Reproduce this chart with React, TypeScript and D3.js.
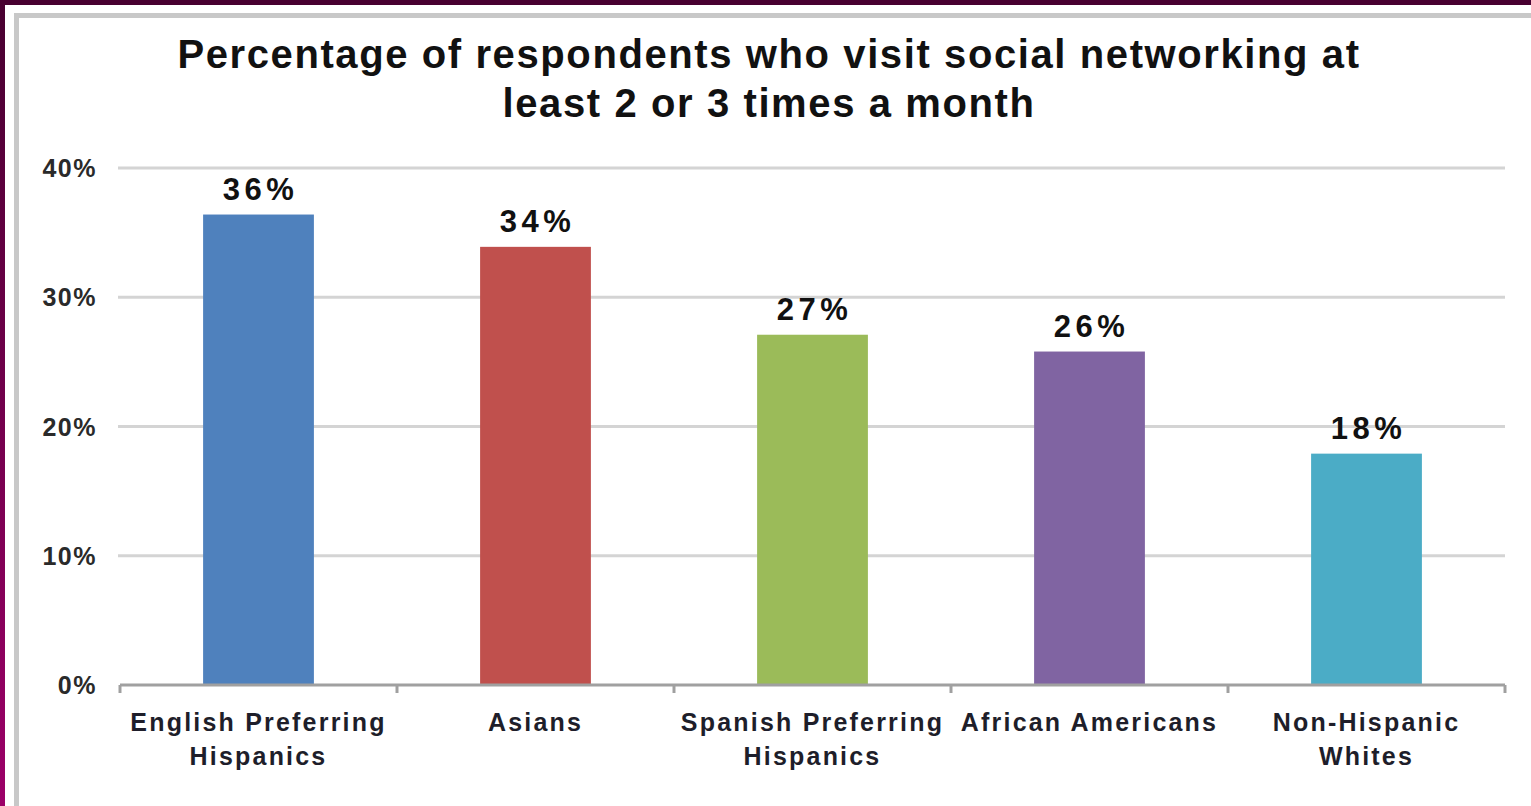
// @ts-nocheck
import React from 'react'
import * as d3 from 'd3'

const categories = [
  'English Preferring Hispanics',
  'Asians',
  'Spanish Preferring Hispanics',
  'African Americans',
  'Non-Hispanic Whites',
]
const categoryLines = [
  ['English Preferring', 'Hispanics'],
  ['Asians'],
  ['Spanish Preferring', 'Hispanics'],
  ['African Americans'],
  ['Non-Hispanic', 'Whites'],
]
const values = [36.4, 33.9, 27.1, 25.8, 17.9]
const valueLabels = ['36%', '34%', '27%', '26%', '18%']
const yTicks = [0, 10, 20, 30, 40]
const titleLines = ['Percentage of respondents who visit social networking at', 'least 2 or 3 times a month']

const barColors = ['#4f81bd', '#c0504d', '#9bbb59', '#8064a2', '#4bacc6']

const W = 1531
const H = 806
const left = 120
const right = 1505
const top = 168
const bottom = 685
const font = 'Liberation Sans, Arial, sans-serif'

const App = () => {
  const x = d3.scaleBand().domain(categories).range([left, right]).paddingInner(0.6).paddingOuter(0.3)
  const y = d3.scaleLinear().domain([0, 40]).range([bottom, top])
  const step = x.step()
  const bounds = d3.range(categories.length + 1).map((i) => left + i * step)

  return (
    <svg width={W} height={H} style={{ position: 'absolute', left: 0, top: 0, background: '#fff' }}>
      <defs>
        <linearGradient id="side" x1="0" y1="0" x2="0" y2="1">
          <stop offset="0" stopColor="#480030" />
          <stop offset="1" stopColor="#9c0068" />
        </linearGradient>
      </defs>
      <rect x={0} y={0} width={W} height={5} fill="#480030" />
      <rect x={0} y={0} width={5} height={H} fill="url(#side)" />
      <rect x={16.5} y={15.5} width={W - 14} height={H - 13} fill="#fff" stroke="#c8c8c8" strokeWidth={5} />

      {titleLines.map((t, i) => (
        <text
          key={i}
          x={769}
          y={68 + i * 49}
          textAnchor="middle"
          fontFamily={font}
          fontWeight="bold"
          fontSize={40}
          letterSpacing={1.6}
          fill="#111"
        >
          {t}
        </text>
      ))}

      {yTicks.map((t) => (
        <g key={t}>
          {t > 0 && <line x1={left - 2} x2={right} y1={y(t)} y2={y(t)} stroke="#d4d4d4" strokeWidth={3} />}
          <text
            x={97}
            y={y(t) + 9}
            textAnchor="end"
            fontFamily={font}
            fontWeight="bold"
            fontSize={25}
            letterSpacing={1.5}
            fill="#2a2a2a"
          >
            {t}%
          </text>
        </g>
      ))}

      {categories.map((c, i) => (
        <g key={c}>
          <rect x={x(c)} y={y(values[i])} width={x.bandwidth()} height={bottom - y(values[i])} fill={barColors[i]} />
          <text
            x={x(c) + x.bandwidth() / 2 + 2}
            y={y(values[i]) - 15}
            textAnchor="middle"
            fontFamily={font}
            fontWeight="bold"
            fontSize={31}
            letterSpacing={4.5}
            fill="#111"
          >
            {valueLabels[i]}
          </text>
          {categoryLines[i].map((l, j) => (
            <text
              key={j}
              x={x(c) + x.bandwidth() / 2}
              y={731 + j * 34}
              textAnchor="middle"
              fontFamily={font}
              fontWeight="bold"
              fontSize={25}
              letterSpacing={2.2}
              fill="#1e1e2a"
            >
              {l}
            </text>
          ))}
        </g>
      ))}

      <line x1={left} x2={right} y1={bottom} y2={bottom} stroke="#a0a0a0" strokeWidth={3} />
      {bounds.map((b, i) => (
        <line key={i} x1={b} x2={b} y1={bottom} y2={bottom + 8} stroke="#a0a0a0" strokeWidth={3} />
      ))}
    </svg>
  )
}

export default App
